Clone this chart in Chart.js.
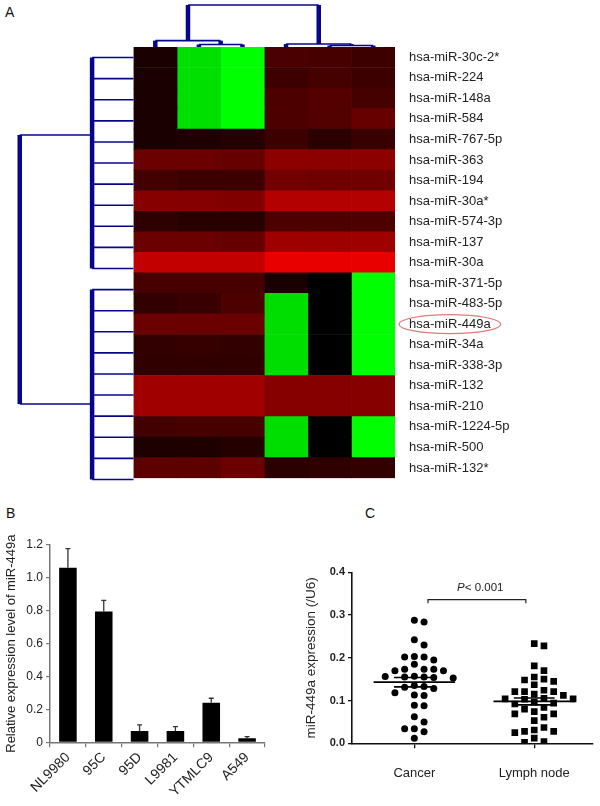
<!DOCTYPE html>
<html><head><meta charset="utf-8">
<script src="https://cdn.jsdelivr.net/npm/chart.js@4/dist/chart.umd.min.js"></script>
<style>
html,body{margin:0;padding:0;background:#fff;}
body{width:600px;height:806px;position:relative;overflow:hidden;font-family:"Liberation Sans",Arial,sans-serif;}
canvas{position:absolute;}
.lbl{position:absolute;font-size:14px;color:#111;line-height:14px;}
</style></head><body>
<div class="lbl" style="left:5px;top:5px">A</div>
<div class="lbl" style="left:6px;top:506px">B</div>
<div class="lbl" style="left:365px;top:506px">C</div>
<canvas id="heat" width="600" height="500" style="left:0;top:0;width:600px;height:500px"></canvas>
<canvas id="dendro" width="600" height="500" style="left:0;top:0;width:600px;height:500px;pointer-events:none"></canvas>
<canvas id="bars" width="300" height="286" style="left:0;top:520px;width:300px;height:286px"></canvas>
<canvas id="dots" width="300" height="286" style="left:300px;top:520px;width:300px;height:286px"></canvas>
<script>
// ---------------- DATA ----------------
const miRNAs = ['hsa-miR-30c-2*','hsa-miR-224','hsa-miR-148a','hsa-miR-584','hsa-miR-767-5p',
  'hsa-miR-363','hsa-miR-194','hsa-miR-30a*','hsa-miR-574-3p','hsa-miR-137','hsa-miR-30a',
  'hsa-miR-371-5p','hsa-miR-483-5p','hsa-miR-449a','hsa-miR-34a','hsa-miR-338-3p',
  'hsa-miR-132','hsa-miR-210','hsa-miR-1224-5p','hsa-miR-500','hsa-miR-132*'];
const samples = ['S1','S2','S3','S4','S5','S6'];
// expression (positive = red, negative = green), one row per miRNA, one value per sample
const heatRows = [
  [0.10,-0.88,-1.00,0.29,0.28,0.24],
  [0.10,-0.88,-1.00,0.24,0.27,0.24],
  [0.10,-0.88,-1.00,0.30,0.33,0.27],
  [0.10,-0.88,-1.00,0.30,0.32,0.40],
  [0.10,0.12,0.15,0.24,0.17,0.22],
  [0.42,0.42,0.40,0.55,0.55,0.55],
  [0.26,0.24,0.24,0.45,0.44,0.44],
  [0.53,0.52,0.50,0.70,0.70,0.70],
  [0.18,0.16,0.16,0.30,0.30,0.30],
  [0.42,0.42,0.40,0.62,0.62,0.62],
  [0.76,0.76,0.76,0.91,0.91,0.91],
  [0.28,0.28,0.28,0.10,0.00,-1.00],
  [0.20,0.22,0.30,-0.87,0.00,-1.00],
  [0.42,0.42,0.42,-0.87,0.00,-1.00],
  [0.20,0.21,0.20,-0.87,0.00,-1.00],
  [0.19,0.19,0.19,-0.87,0.00,-1.00],
  [0.63,0.63,0.63,0.53,0.53,0.53],
  [0.63,0.63,0.63,0.53,0.53,0.53],
  [0.26,0.28,0.28,-0.87,0.00,-1.00],
  [0.12,0.12,0.14,-0.87,0.00,-1.00],
  [0.36,0.36,0.42,0.17,0.18,0.20]
];
const highlighted = 'hsa-miR-449a';
// row dendrogram: two flat clusters, merged at the root
const rowClusters = [[0,10],[11,20]];
const rowClusterHeight = 0.95;
const rowRootHeight = 2.61;
const rowRootAnchors = [4.17,16.92];
// column dendrogram merges: [childA, childB, height]
const colMerges = [[1,2,0.12],[4,5,0.07],[0,'m0',0.30],[3,'m1',0.14],['m2','m3',1.99]];

const cellLines = ['NL9980','95C','95D','L9981','YTMLC9','A549'];
const relExpr = [1.062,0.796,0.069,0.069,0.240,0.024];
const relErr = [0.116,0.067,0.037,0.026,0.028,0.011];
const barTicks = [0,0.2,0.4,0.6,0.8,1.0,1.2];

const groups = ['Cancer','Lymph node'];
const cancerVals = [0.284,0.288,0.242,0.230,0.185,0.202,0.195,0.202,0.203,0.173,0.170,0.170,0.173,0.173,
  0.157,0.156,0.154,0.155,0.153,0.155,0.131,0.135,0.128,0.133,0.118,0.112,0.113,0.088,0.089,0.062,0.050,
  0.034,0.027,0.034,0.012];
const lymphVals = [0.233,0.228,0.181,0.170,0.155,0.137,0.148,0.145,0.150,0.115,0.121,0.121,0.121,0.124,
  0.112,0.105,0.104,0.103,0.104,0.096,0.094,0.092,0.080,0.069,0.061,0.069,0.074,0.084,0.053,0.031,0.028,
  0.025,0.028,0.037,0.004,0.012,0.002];
const groupMeans = [0.143,0.098];
const groupSems = [0.011,0.008];
const pLabel = ['P','< 0.001'];
const dotTicks = [0,0.1,0.2,0.3,0.4];

// ---------------- STYLE / LAYOUT ----------------
const FONT = '"Liberation Sans", Arial, sans-serif';
Chart.defaults.font.family = FONT;
Chart.defaults.color = '#222';
const HM = {left:133.5, top:47, right:395, bottom:490};
const NAVY = '#06068c';

function heatColor(v){
  const c = Math.round(Math.abs(v)*255);
  return v >= 0 ? `rgb(${c},0,0)` : `rgb(0,${c},0)`;
}

// ---------------- HEATMAP ----------------
const ellipsePlugin = {
  id:'ellipse',
  afterDraw(chart){
    const ys = chart.scales.y, ctx = chart.ctx;
    const idx = miRNAs.indexOf(highlighted);
    const y = ys.getPixelForValue(idx);
    ctx.save();
    ctx.font = '13px ' + FONT;
    const w = ctx.measureText(highlighted).width;
    const x0 = ys.left + 14;
    ctx.beginPath();
    ctx.ellipse(x0 + w/2, y, w/2 + 10, 9.5, 0, 0, Math.PI*2);
    ctx.strokeStyle = '#e07a7a'; ctx.lineWidth = 1.2; ctx.stroke();
    ctx.restore();
  }
};
new Chart(document.getElementById('heat'), {
  type:'bar',
  data:{
    labels: miRNAs,
    datasets: samples.map((s,j)=>({
      label:s,
      data: miRNAs.map(()=>1),
      backgroundColor: heatRows.map(r=>heatColor(r[j])),
      borderWidth:0, barPercentage:1, categoryPercentage:1
    }))
  },
  options:{
    indexAxis:'y', animation:false, responsive:false,
    layout:{padding:{left:HM.left, top:HM.top, right:0, bottom:500-HM.bottom}},
    plugins:{legend:{display:false}, tooltip:{enabled:false}},
    scales:{
      x:{stacked:true, min:0, max:samples.length, display:false},
      y:{stacked:true, position:'right', grid:{display:false, drawTicks:false}, border:{display:false},
         ticks:{autoSkip:false, padding:14, font:{size:13}, color:'#222'},
         afterFit(s){ s.width = 600 - HM.right; }}
    }
  },
  plugins:[ellipsePlugin]
});

// ---------------- DENDROGRAMS ----------------
const colW = (HM.right-HM.left)/samples.length;
const rowH = (HM.bottom-HM.top)/miRNAs.length;
const segs = []; // {pts, thick}
function seg(x1,y1,x2,y2,thick){ segs.push({pts:[{x:x1,y:y1},{x:x2,y:y2}], thick}); }
// rows (x negative = left of heatmap)
rowClusters.forEach(([a,b],k)=>{
  for(let i=a;i<=b;i++) seg(0,i+0.5,-rowClusterHeight,i+0.5,false);
  seg(-rowClusterHeight,a+0.5,-rowClusterHeight,b+0.5,true);
  seg(-rowClusterHeight,rowRootAnchors[k],-rowRootHeight,rowRootAnchors[k],false);
});
seg(-rowRootHeight,rowRootAnchors[0],-rowRootHeight,rowRootAnchors[1],true);
// columns (y negative = above heatmap)
(function(){
  const anc={}, hts={};
  const get = c => typeof c==='number' ? {x:c+0.5,h:0} : {x:anc[c],h:hts[c]};
  colMerges.forEach((m,i)=>{
    const A=get(m[0]), B=get(m[1]), h=m[2];
    seg(A.x,-A.h,A.x,-h,true);
    seg(B.x,-B.h,B.x,-h,true);
    seg(A.x,-h,B.x,-h,false);
    anc['m'+i]=(A.x+B.x)/2; hts['m'+i]=h;
  });
})();
new Chart(document.getElementById('dendro'), {
  type:'scatter',
  data:{datasets: segs.map(s=>({data:s.pts, showLine:true, borderColor:NAVY,
    borderWidth:s.thick?4.5:1.6, pointRadius:0, clip:false, borderCapStyle:'butt'}))},
  options:{
    animation:false, responsive:false,
    layout:{padding:{left:0, top:0, right:600-HM.right, bottom:500-HM.bottom}},
    plugins:{legend:{display:false}, tooltip:{enabled:false}},
    scales:{
      x:{type:'linear', min:-HM.left/colW, max:samples.length, display:false},
      y:{type:'linear', min:-HM.top/rowH, max:miRNAs.length, reverse:true, display:false}
    }
  }
});

// ---------------- PANEL B ----------------
const errPlugin = {
  id:'err',
  afterDatasetsDraw(chart){
    const ctx=chart.ctx, ys=chart.scales.y;
    chart.getDatasetMeta(0).data.forEach((bar,i)=>{
      const yt = ys.getPixelForValue(relExpr[i]+relErr[i]);
      ctx.save(); ctx.strokeStyle='#333'; ctx.lineWidth=1.3;
      ctx.beginPath(); ctx.moveTo(bar.x, bar.y); ctx.lineTo(bar.x, yt);
      ctx.moveTo(bar.x-2.5, yt); ctx.lineTo(bar.x+2.5, yt); ctx.stroke(); ctx.restore();
    });
  }
};
new Chart(document.getElementById('bars'), {
  type:'bar',
  data:{labels:cellLines, datasets:[{data:relExpr, backgroundColor:'#000', borderWidth:0,
    barPercentage:0.49, categoryPercentage:1}]},
  options:{
    animation:false, responsive:false,
    layout:{padding:{left:0, top:25, right:35, bottom:0}},
    plugins:{legend:{display:false}, tooltip:{enabled:false}},
    scales:{
      x:{grid:{drawOnChartArea:false, tickLength:5, color:'#777', lineWidth:1.2},
         border:{color:'#777', width:1.5},
         ticks:{font:{size:14}, color:'#222', maxRotation:45, minRotation:45, padding:2},
         afterFit(s){ s.height = 63.7; }},
      y:{min:0, max:1.2,
         afterBuildTicks(s){ s.ticks = barTicks.map(v=>({value:v})); },
         ticks:{font:{size:12}, color:'#222', padding:3,
           callback:v=> v===0 ? '0' : v.toFixed(1)},
         grid:{drawOnChartArea:false, tickLength:4, color:'#777', lineWidth:1.2},
         border:{color:'#777', width:1.5},
         title:{display:true, text:'Relative expression level of miR-449a', font:{size:13}, color:'#222',
           padding:{top:4,bottom:0}},
         afterFit(s){ s.width = 50; }}
    }
  },
  plugins:[errPlugin]
});

// ---------------- PANEL C ----------------
function swarm(vals, center, step, thr){
  const placed=[], res=new Array(vals.length);
  const order = vals.map((v,i)=>i).sort((a,b)=>vals[b]-vals[a]);
  for(const i of order){
    const v=vals[i];
    for(let k=0;k<40;k++){
      const slot = k===0 ? 0 : (k%2 ? (k+1)/2 : -k/2);
      if(!placed.some(p=>p.slot===slot && Math.abs(p.y-v)<thr)){
        placed.push({slot,y:v}); res[i]={x:center+slot*step,y:v}; break;
      }
    }
  }
  return res;
}
const meanHalf = 0.34, semHalf = 0.17;
const lineDs = [];
groupMeans.forEach((m,g)=>{
  const c=g+1;
  lineDs.push({type:'line', data:[{x:c-meanHalf,y:m},{x:c+meanHalf,y:m}], borderColor:'#000', borderWidth:1.6, pointRadius:0});
  lineDs.push({type:'line', data:[{x:c-semHalf,y:m+groupSems[g]},{x:c+semHalf,y:m+groupSems[g]}], borderColor:'#000', borderWidth:1.6, pointRadius:0});
  lineDs.push({type:'line', data:[{x:c-semHalf,y:m-groupSems[g]},{x:c+semHalf,y:m-groupSems[g]}], borderColor:'#000', borderWidth:1.6, pointRadius:0});
});
const bracketPlugin = {
  id:'bracket',
  afterDraw(chart){
    const ctx=chart.ctx, xs=chart.scales.x, ys=chart.scales.y;
    const x1=xs.getPixelForValue(1.114), x2=xs.getPixelForValue(1.93), y=ys.getPixelForValue(0.336);
    ctx.save(); ctx.strokeStyle='#222'; ctx.lineWidth=1.2;
    ctx.beginPath(); ctx.moveTo(x1,y+3.5); ctx.lineTo(x1,y); ctx.lineTo(x2,y); ctx.lineTo(x2,y+3.5); ctx.stroke();
    const ty = ys.getPixelForValue(0.364), cx = xs.getPixelForValue(1.55);
    ctx.fillStyle='#222'; ctx.textBaseline='middle'; ctx.textAlign='left';
    ctx.font='italic 11.5px '+FONT; const w1=ctx.measureText(pLabel[0]).width;
    ctx.font='11.5px '+FONT; const w2=ctx.measureText(pLabel[1]).width;
    const sx = cx-(w1+w2)/2;
    ctx.font='italic 11.5px '+FONT; ctx.fillText(pLabel[0], sx, ty);
    ctx.font='11.5px '+FONT; ctx.fillText(pLabel[1], sx+w1, ty);
    ctx.restore();
  }
};
new Chart(document.getElementById('dots'), {
  type:'scatter',
  data:{datasets:[
    ...lineDs,
    {data:swarm(cancerVals,1,0.081,0.0175), pointStyle:'circle', pointRadius:3.5, backgroundColor:'#000', borderWidth:0},
    {data:swarm(lymphVals,2,0.081,0.0175), pointStyle:'rect', pointRadius:4.7, backgroundColor:'#000', borderWidth:0}
  ]},
  options:{
    animation:false, responsive:false,
    layout:{padding:{left:0, top:52.3, right:7, bottom:0}},
    plugins:{legend:{display:false}, tooltip:{enabled:false}},
    scales:{
      x:{type:'linear', min:0.48, max:2.49,
         afterBuildTicks(s){ s.ticks = groups.map((g,i)=>({value:i+1})); },
         ticks:{font:{size:13}, color:'#222', padding:17, callback:v=>groups[v-1]},
         grid:{drawOnChartArea:false, tickLength:5, color:'#111', lineWidth:1.3},
         border:{color:'#111', width:1.6},
         afterFit(s){ s.height = 62.7; }},
      y:{min:0, max:0.4,
         afterBuildTicks(s){ s.ticks = dotTicks.map(v=>({value:v})); },
         ticks:{font:{size:11, weight:'bold'}, color:'#222', padding:3, callback:v=>v.toFixed(1)},
         grid:{drawOnChartArea:false, tickLength:4, color:'#111', lineWidth:1.3},
         border:{color:'#111', width:1.6},
         title:{display:true, text:'miR-449a expression (/U6)', font:{size:13.5}, color:'#222', padding:{top:3,bottom:0}},
         afterFit(s){ s.width = 52; }}
    }
  },
  plugins:[bracketPlugin]
});
</script>
</body></html>
